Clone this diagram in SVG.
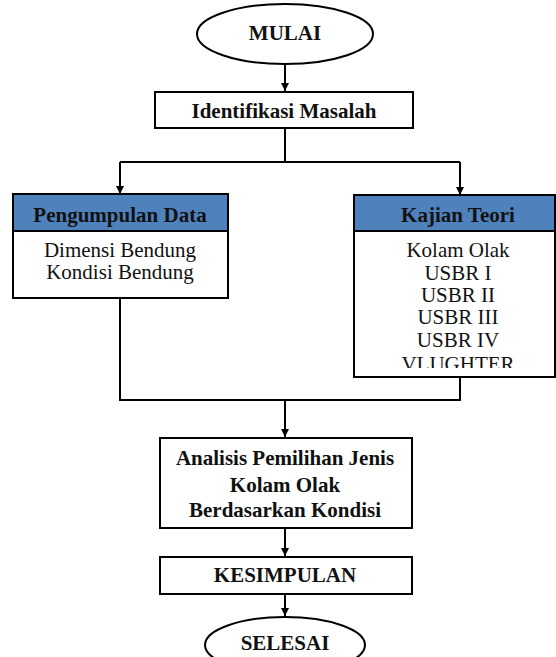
<svg xmlns="http://www.w3.org/2000/svg" width="556" height="657" viewBox="0 0 556 657">
<style>
.box{fill:#fff;stroke:#000;stroke-width:2}
.hdr{fill:#4f81bd;stroke:#000;stroke-width:2}
.ln{fill:none;stroke:#000;stroke-width:2}
.b{font-family:'Liberation Serif','DejaVu Serif',serif;font-weight:bold;font-size:21px;fill:#111;text-anchor:middle}
.r{font-family:'Liberation Serif','DejaVu Serif',serif;font-size:21px;fill:#111;text-anchor:middle}
</style>
<defs>
<marker id="ah" markerWidth="10" markerHeight="10" refX="9" refY="5" orient="auto" markerUnits="userSpaceOnUse">
<path d="M1,1 L9,5 L1,9 Z" fill="#000"/>
</marker>
<clipPath id="kc"><rect x="354" y="231" width="202" height="137"/></clipPath>
</defs>
<g id="connectors">
<line class="ln" x1="285" y1="64" x2="285" y2="91" marker-end="url(#ah)"/>
<line class="ln" x1="285" y1="128" x2="285" y2="162"/>
<polyline class="ln" points="120,162 460,162"/>
<line class="ln" x1="120" y1="162" x2="120" y2="194" marker-end="url(#ah)"/>
<line class="ln" x1="460" y1="162" x2="460" y2="195" marker-end="url(#ah)"/>
<polyline class="ln" points="120,298 120,400 460,400 460,377"/>
<line class="ln" x1="285" y1="400" x2="285" y2="437" marker-end="url(#ah)"/>
<line class="ln" x1="285" y1="528" x2="285" y2="556" marker-end="url(#ah)"/>
<line class="ln" x1="285" y1="594" x2="285" y2="616" marker-end="url(#ah)"/>
</g>
<g id="mulai">
<ellipse class="box" cx="285" cy="34" rx="88" ry="30"/>
<text class="b" x="285" y="40">MULAI</text>
</g>
<g id="identifikasi">
<rect class="box" x="155" y="92" width="258" height="36"/>
<text class="b" x="284" y="118">Identifikasi Masalah</text>
</g>
<g id="pengumpulan">
<rect class="box" x="13" y="194" width="215" height="104"/>
<rect class="hdr" x="13" y="194" width="215" height="37"/>
<text class="b" x="120" y="222">Pengumpulan Data</text>
<text class="r" x="120" y="257">Dimensi Bendung</text>
<text class="r" x="120" y="279">Kondisi Bendung</text>
</g>
<g id="kajian">
<rect class="box" x="354" y="195" width="201" height="182"/>
<rect class="hdr" x="354" y="195" width="201" height="36"/>
<text class="b" x="458" y="222">Kajian Teori</text>
<g clip-path="url(#kc)">
<text class="r" x="458" y="257">Kolam Olak</text>
<text class="r" x="458" y="280">USBR I</text>
<text class="r" x="458" y="302">USBR II</text>
<text class="r" x="458" y="324">USBR III</text>
<text class="r" x="458" y="347">USBR IV</text>
<text class="r" x="458" y="371">VLUGHTER</text>
</g>
</g>
<g id="analisis">
<rect class="box" x="160" y="438" width="252" height="90"/>
<text class="b" x="285" y="465">Analisis Pemilihan Jenis</text>
<text class="b" x="285" y="492">Kolam Olak</text>
<text class="b" x="285" y="517">Berdasarkan Kondisi</text>
</g>
<g id="kesimpulan">
<rect class="box" x="160" y="557" width="252" height="37"/>
<text class="b" x="285" y="582">KESIMPULAN</text>
</g>
<g id="selesai">
<ellipse class="box" cx="285" cy="645" rx="80" ry="28"/>
<text class="b" x="285" y="650">SELESAI</text>
</g>
</svg>
